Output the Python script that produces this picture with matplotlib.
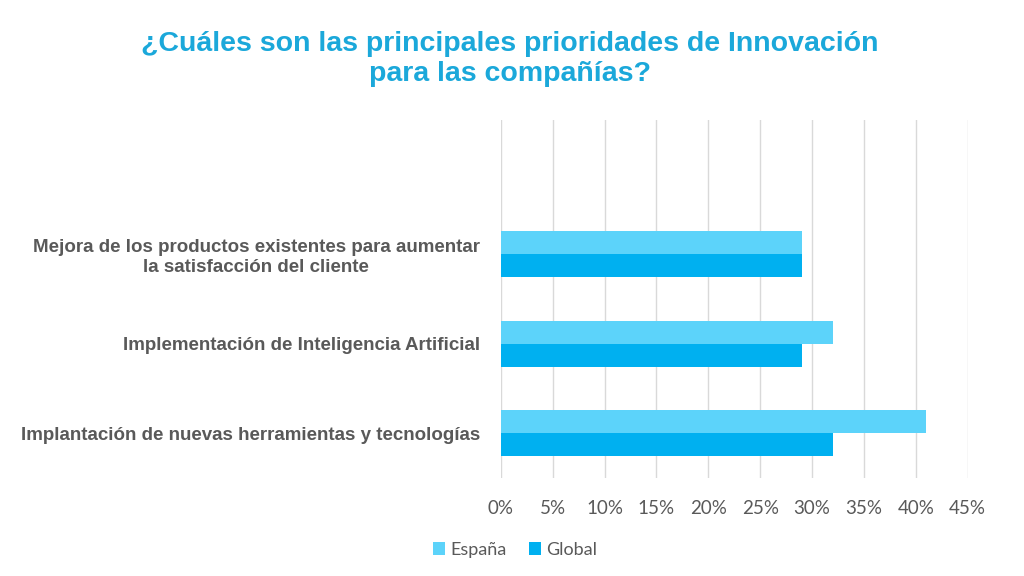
import matplotlib.pyplot as plt
import numpy as np

# datos (porcentajes), de abajo hacia arriba
categorias = ["Implantación de nuevas herramientas y tecnologías",
              "Implementación de Inteligencia Artificial",
              "Mejora de los productos existentes para aumentar\nla satisfacción del cliente"]
espana = [41, 32, 29]
global_ = [32, 29, 29]
ticks_x = [0, 5, 10, 15, 20, 25, 30, 35, 40, 45]

COL_ESP = "#5CD3FA"
COL_GLO = "#00B0F0"
GRIS = "#595959"
NARROW = ["Liberation Sans Narrow", "Liberation Sans", "DejaVu Sans"]

fig = plt.figure(figsize=(10.24, 5.76), dpi=100)
ax = fig.add_axes([0.489, 0.170, 0.456, 0.622])

y = np.arange(len(categorias))
h = 0.257
ax.barh(y + h / 2, espana, height=h, color=COL_ESP, label="España", zorder=3)
ax.barh(y - h / 2, global_, height=h, color=COL_GLO, label="Global", zorder=3)

ax.set_xlim(0, 45)
ax.set_ylim(-0.5, 3.5)  # hueco vacío arriba, como en el original
ax.set_xticks(ticks_x)
ax.set_xticklabels([f"{t}%" for t in ticks_x], family=["Lato", "DejaVu Sans"],
                   fontsize=13.5, color=GRIS)
ax.set_yticks(y)
ax.set_yticklabels(categorias, family=NARROW, fontsize=13.5, weight="bold",
                   color=GRIS, multialignment="center")
ax.tick_params(axis="x", length=0, pad=16)
ax.tick_params(axis="y", length=0, pad=15)
ax.grid(axis="x", color="#D9D9D9", linewidth=1, zorder=0)
for s in ax.spines.values():
    s.set_visible(False)

fig.text(0.498, 0.898, "¿Cuáles son las principales prioridades de Innovación\npara las compañías?",
         ha="center", va="center", fontsize=20.5, color="#1BA8DA", family=NARROW,
         weight="bold", linespacing=1.2)

fig.legend(loc="center", bbox_to_anchor=(0.503, 0.045), ncol=2, frameon=False,
           handlelength=0.7, handleheight=0.7, handletextpad=0.3, columnspacing=1.2,
           prop={"family": ["Lato", "DejaVu Sans"], "size": 13}, labelcolor=GRIS)

fig.savefig("out.png", dpi=100, facecolor="white")
